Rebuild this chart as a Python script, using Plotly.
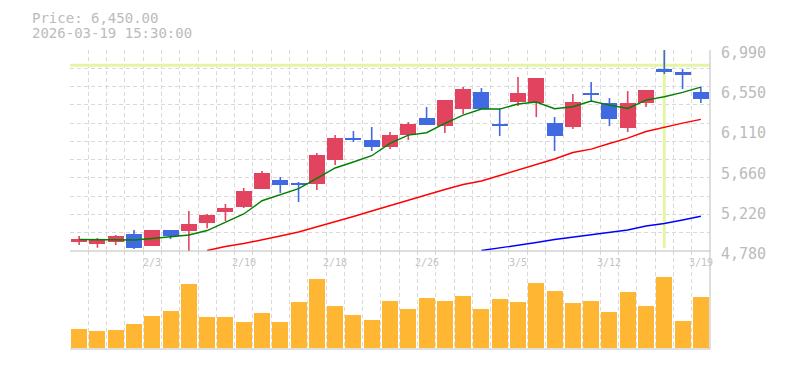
import plotly.graph_objects as go

# ---------------- data ----------------
dates = ["1/28", "1/29", "1/30", "2/2", "2/3", "2/4", "2/5", "2/6", "2/9", "2/10",
         "2/12", "2/13", "2/16", "2/17", "2/18", "2/19", "2/20", "2/24", "2/25", "2/26",
         "2/27", "3/2", "3/3", "3/4", "3/5", "3/6", "3/9", "3/10", "3/11", "3/12",
         "3/13", "3/16", "3/17", "3/18", "3/19"]

opens = [4879, 4860, 4879, 4967, 4835, 5011, 5000, 5088, 5209, 5264,
         5462, 5561, 5528, 5517, 5781, 6022, 6000, 5923, 6055, 6242,
         6154, 6341, 6528, 6176, 6418, 6407, 6187, 6143, 6517, 6407,
         6132, 6407, 6781, 6748, 6528]
closes = [4912, 4912, 4945, 4813, 5011, 4945, 5077, 5176, 5253, 5440,
          5638, 5506, 5506, 5836, 6022, 6000, 5923, 6055, 6176, 6165,
          6440, 6561, 6341, 6154, 6517, 6682, 6044, 6418, 6495, 6231,
          6407, 6550, 6748, 6715, 6450]
highs = [4945, 4923, 4956, 5011, 5011, 5011, 5220, 5187, 5297, 5473,
         5660, 5594, 5539, 5858, 6055, 6099, 6143, 6088, 6198, 6363,
         6440, 6583, 6572, 6352, 6693, 6682, 6253, 6506, 6638, 6462,
         6539, 6550, 6990, 6781, 6583]
lows = [4846, 4816, 4846, 4802, 4835, 4912, 4775, 5030, 5110, 5253,
        5462, 5418, 5319, 5451, 5726, 5978, 5880, 5901, 6000, 6165,
        6077, 6286, 6341, 6044, 6374, 6253, 5880, 6121, 6429, 6154,
        6088, 6363, 6726, 6561, 6407]

volumes = [19, 17, 18, 24, 32, 37, 64, 31, 31, 26, 35, 26, 46, 69, 42, 33, 28, 47,
           39, 50, 47, 52, 39, 49, 46, 65, 57, 45, 47, 36, 56, 42, 71, 27, 51]  # thousands

ma_short = [4906, 4906, 4906, 4901, 4917, 4939, 4956, 5005, 5099, 5187,
            5333, 5399, 5465, 5579, 5693, 5759, 5828, 5964, 6055, 6081,
            6184, 6275, 6341, 6341, 6396, 6418, 6345, 6367, 6429, 6385,
            6347, 6440, 6477, 6525, 6583]
ma_mid_start = 7
ma_mid = [4785, 4829, 4862, 4901, 4945, 4989, 5044, 5099, 5159, 5220,
          5280, 5341, 5401, 5456, 5511, 5550, 5610, 5671, 5731, 5792,
          5863, 5901, 5962, 6022, 6094, 6143, 6187, 6228]
ma_long_start = 22
ma_long = [4785, 4813, 4840, 4873, 4906, 4934, 4961, 4989, 5011, 5055,
           5082, 5121, 5162]

price_tick_vals = [4780, 5222, 5664, 6106, 6548, 6990]
price_tick_text = ["4,780", "5,220", "5,660", "6,110", "6,550", "6,990"]
label_idx = [4, 9, 14, 19, 24, 29, 34]

cross_idx = 32
cross_price = 6822
header_lines = ["Price: 6,450.00", "2026-03-19 15:30:00"]

# ---------------- styling ----------------
OFF = 8                     # browser body margin around the plot div
W, H = 785 - 2 * OFF, 370 - 2 * OFF
LEFT_PX, RIGHT_PX, TOP_PX, BOTTOM_PX = 70, 710, 50, 349   # page pixels
ML = LEFT_PX - OFF
MT = TOP_PX - OFF
MR = W - (RIGHT_PX - OFF)
MB = H - (BOTTOM_PX - OFF)
PW, PH = W - ML - MR, H - MT - MB
SPLIT_PX = 251
split = (BOTTOM_PX - SPLIT_PX) / PH

UP = "#e2435f"
DOWN = "#4169e1"
VOL = "#ffb733"
GRID = "#d9d9d9"
BORDER = "#bdbdbd"
TXT = "#bbbbbb"
XTXT = "#c4c4c4"
CROSS = "#e4f6a6"
FONT = "DejaVu Sans Mono"


def px2x(px):
    return (px - LEFT_PX) / PW


def px2y(py):
    return (BOTTOM_PX - py) / PH


n = len(dates)
idx = list(range(n))
fig = go.Figure()

# wicks
for col, cond in ((UP, lambda o, c: c >= o), (DOWN, lambda o, c: c < o)):
    xs, ys = [], []
    for i in idx:
        if cond(opens[i], closes[i]):
            xs += [i, i, None]
            ys += [lows[i], highs[i], None]
    fig.add_trace(go.Scatter(x=xs, y=ys, mode="lines", line=dict(color=col, width=1.6),
                             xaxis="x", yaxis="y", hoverinfo="skip", showlegend=False))

# bodies
fig.add_trace(go.Bar(
    x=idx,
    y=[max(abs(closes[i] - opens[i]), 15) for i in idx],
    base=[min(opens[i], closes[i]) for i in idx],
    width=0.875,
    marker=dict(color=[UP if closes[i] >= opens[i] else DOWN for i in idx], line=dict(width=0)),
    xaxis="x", yaxis="y", hoverinfo="skip", showlegend=False))

# moving averages
fig.add_trace(go.Scatter(x=idx, y=ma_short, mode="lines", line=dict(color="#008000", width=1.4),
                         xaxis="x", yaxis="y", hoverinfo="skip", showlegend=False))
fig.add_trace(go.Scatter(x=list(range(ma_mid_start, ma_mid_start + len(ma_mid))), y=ma_mid,
                         mode="lines", line=dict(color="#ff0000", width=1.4),
                         xaxis="x", yaxis="y", hoverinfo="skip", showlegend=False))
fig.add_trace(go.Scatter(x=list(range(ma_long_start, ma_long_start + len(ma_long))), y=ma_long,
                         mode="lines", line=dict(color="#0000ff", width=1.4),
                         xaxis="x", yaxis="y", hoverinfo="skip", showlegend=False))

# volume
fig.add_trace(go.Bar(x=idx, y=[v * 1000 for v in volumes], width=0.875,
                     marker=dict(color=VOL, line=dict(width=0)),
                     xaxis="x2", yaxis="y2", hoverinfo="skip", showlegend=False))

shapes = [
    # crosshair
    dict(type="line", xref="x", yref="y", x0=-0.5, x1=n - 0.5, y0=cross_price, y1=cross_price,
         line=dict(color=CROSS, width=3), layer="between"),
    dict(type="line", xref="x", yref="y", x0=cross_idx, x1=cross_idx, y0=4813, y1=6990,
         line=dict(color=CROSS, width=3), layer="between"),
    # borders
    dict(type="line", xref="paper", yref="paper", x0=0, x1=1, y0=split, y1=split,
         line=dict(color=BORDER, width=1)),
    dict(type="line", xref="paper", yref="paper", x0=0, x1=1, y0=0, y1=0,
         line=dict(color=BORDER, width=1)),
    dict(type="line", xref="paper", yref="paper", x0=1, x1=1, y0=0, y1=1,
         line=dict(color=BORDER, width=1)),
]

annotations = []
for v, t in zip(price_tick_vals, price_tick_text):
    annotations.append(dict(x=px2x(719), xref="paper", y=v, yref="y", yshift=-3,
                            text=t, showarrow=False, xanchor="left", yanchor="middle",
                            font=dict(family=FONT, size=15, color=TXT)))
for i in label_idx:
    annotations.append(dict(x=i, xref="x", y=px2y(262), yref="paper", text=dates[i],
                            showarrow=False, xanchor="center", yanchor="middle",
                            font=dict(family=FONT, size=10, color=XTXT)))
for k, line in enumerate(header_lines):
    annotations.append(dict(x=px2x(30), xref="paper", y=px2y(18 + 15 * k), yref="paper",
                            text=line, showarrow=False, xanchor="left", yanchor="middle",
                            font=dict(family=FONT, size=14, color=TXT)))

grid_common = dict(showgrid=True, gridcolor=GRID, griddash="4px,3px", gridwidth=1,
                   zeroline=False, showline=False, showticklabels=False, ticks="")

fig.update_layout(
    width=W, height=H,
    margin=dict(l=ML, r=MR, t=MT, b=MB),
    paper_bgcolor="white", plot_bgcolor="white",
    barmode="overlay", bargap=0,
    showlegend=False,
    hovermode=False,
    xaxis=dict(domain=[0, 1], anchor="y", range=[-0.5, n - 0.5], tick0=-0.5, dtick=1, **grid_common),
    xaxis2=dict(domain=[0, 1], anchor="y2", range=[-0.5, n - 0.5], tick0=-0.5, dtick=1,
                matches="x", **grid_common),
    yaxis=dict(domain=[split, 1], anchor="x", range=[4780, 6990.5], tick0=4780, dtick=2210 / 11,
               **grid_common),
    yaxis2=dict(domain=[0, split], anchor="x2", range=[-1000, 97000], showgrid=False,
                zeroline=False, showticklabels=False, ticks=""),
    shapes=shapes,
    annotations=annotations,
)

fig.write_html("out.html")
